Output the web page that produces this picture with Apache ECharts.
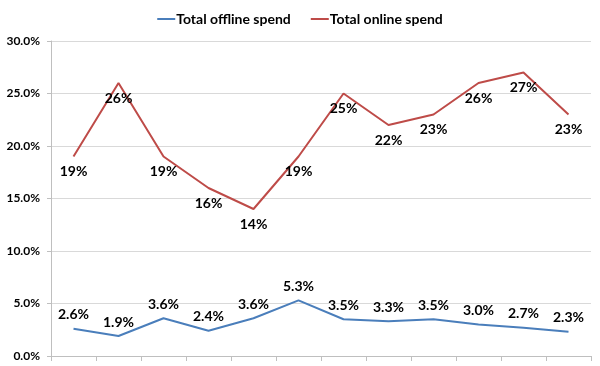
<!DOCTYPE html>
<html>
<head>
<meta charset="utf-8">
<script src="https://cdn.jsdelivr.net/npm/echarts@6/dist/echarts.min.js"></script>
<style>html,body{margin:0;padding:0;background:#fff;}#c{width:600px;height:366px;}</style>
</head>
<body>
<div id="c"></div>
<script>
const categories = ['1','2','3','4','5','6','7','8','9','10','11','12'];
const offlineSpend = [2.6, 1.9, 3.6, 2.4, 3.6, 5.3, 3.5, 3.3, 3.5, 3.0, 2.7, 2.3];
const onlineSpend = [19, 26, 19, 16, 14, 19, 25, 22, 23, 26, 27, 23];
const yTicks = [0, 5, 10, 15, 20, 25, 30];

const FONT = 'Lato, "Open Sans", sans-serif';
const chart = echarts.init(document.getElementById('c'), null, {renderer: 'canvas'});
chart.setOption({
  animation: false,
  textStyle: {fontFamily: FONT},
  legend: {
    top: 7, left: 'center',
    itemWidth: 18, itemHeight: 2, itemGap: 20,
    icon: 'rect',
    textStyle: {fontFamily: FONT, fontWeight: 'bold', fontSize: 14, color: '#000', padding: [0,0,0,-4]},
    data: ['Total offline spend', 'Total online spend']
  },
  grid: {left: 51, right: 9, top: 41, bottom: 10, containLabel: false},
  xAxis: {
    type: 'category', data: categories, boundaryGap: true,
    axisLine: {show: true, lineStyle: {color: '#bfbfbf', width: 1}},
    axisTick: {show: true, length: 5, alignWithLabel: false, lineStyle: {color: '#bfbfbf'}},
    axisLabel: {show: false}
  },
  yAxis: {
    type: 'value', min: yTicks[0], max: yTicks[yTicks.length-1], interval: 5,
    axisLine: {show: true, lineStyle: {color: '#bfbfbf', width: 1}},
    axisTick: {show: true, length: 4, lineStyle: {color: '#bfbfbf'}},
    splitLine: {show: true, lineStyle: {color: '#d9d9d9', width: 1}},
    axisLabel: {
      fontFamily: FONT, fontWeight: 'bold', fontSize: 12, color: '#000', margin: 11,
      formatter: v => v.toFixed(1) + '%'
    }
  },
  series: [
    {
      name: 'Total offline spend', type: 'line', data: offlineSpend,
      symbol: 'circle', symbolSize: 0, showSymbol: true,
      lineStyle: {color: '#4a7ebb', width: 2},
      itemStyle: {color: '#4a7ebb'},
      label: {show: true, position: 'top', distance: 7,
        fontFamily: FONT, fontWeight: 'bold', fontSize: 14, color: '#000',
        formatter: p => p.value.toFixed(1) + '%'}
    },
    {
      name: 'Total online spend', type: 'line', data: onlineSpend,
      symbol: 'circle', symbolSize: 0, showSymbol: true,
      lineStyle: {color: '#be4b48', width: 2},
      itemStyle: {color: '#be4b48'},
      label: {show: true, position: 'bottom', distance: 8,
        fontFamily: FONT, fontWeight: 'bold', fontSize: 14, color: '#000',
        formatter: p => p.value.toFixed(0) + '%'}
    }
  ]
});
</script>
</body>
</html>
